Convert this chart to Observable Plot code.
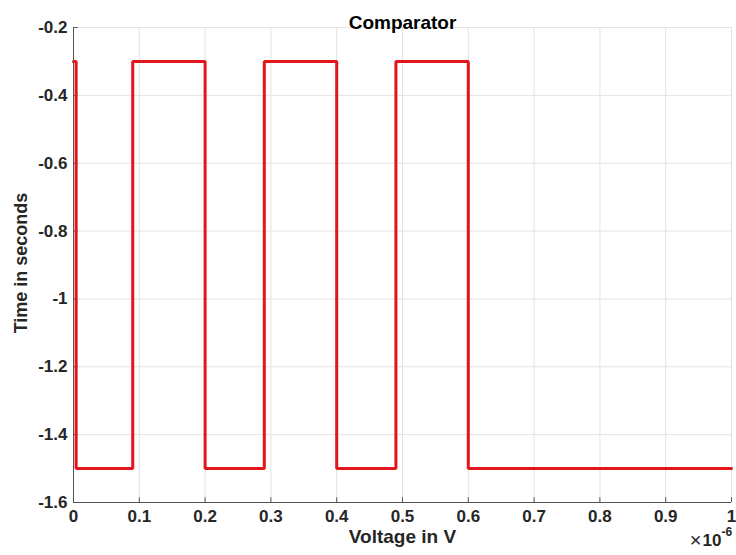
<!DOCTYPE html>
<html>
<head>
<meta charset="utf-8">
<script src="https://cdn.jsdelivr.net/npm/d3@7"></script>
<script src="https://cdn.jsdelivr.net/npm/@observablehq/plot@0.6"></script>
<style>
  html, body { margin: 0; padding: 0; background: #fff; }
  #chart svg { display: block; }
</style>
</head>
<body>
<div id="chart"></div>
<script>
// Time axis values in units of 1e-6 (shown with ×10^-6 multiplier)
const xValues = [0, 0.004, 0.004, 0.09, 0.09, 0.2, 0.2, 0.29, 0.29, 0.4, 0.4, 0.49, 0.49, 0.6, 0.6, 1.0];
const yValues = [-0.3, -0.3, -1.5, -1.5, -0.3, -0.3, -1.5, -1.5, -0.3, -0.3, -1.5, -1.5, -0.3, -0.3, -1.5, -1.5];
const xTicks = [0, 0.1, 0.2, 0.3, 0.4, 0.5, 0.6, 0.7, 0.8, 0.9, 1];
const yTicks = [-1.6, -1.4, -1.2, -1, -0.8, -0.6, -0.4, -0.2];
const titleText = "Comparator";
const xLabel = "Voltage in V";
const yLabel = "Time in seconds";

const data = xValues.map((x, i) => ({x, y: yValues[i]}));
const fmt = d => String(+d.toFixed(1));
const font = "'Liberation Sans', Arial, Helvetica, sans-serif";

const chart = Plot.plot({
  width: 736,
  height: 555,
  marginLeft: 73,
  marginRight: 5,
  marginTop: 27,
  marginBottom: 53,
  style: {fontFamily: font, fontSize: "17px", fontWeight: "bold", color: "#262626", background: "#fff"},
  x: {domain: [0, 1], ticks: xTicks},
  y: {domain: [-1.6, -0.2], ticks: yTicks},
  marks: [
    Plot.gridX(xTicks, {stroke: "#e3e3e3", strokeOpacity: 1}),
    Plot.gridY(yTicks, {stroke: "#e3e3e3", strokeOpacity: 1}),
    Plot.ruleX(xTicks, {y1: -1.6, y2: -1.6 + 0.014, stroke: "#555"}),
    Plot.ruleY(yTicks, {x1: 0, x2: 0.007, stroke: "#555"}),
    Plot.ruleX([0], {stroke: "#555"}),
    Plot.ruleY([-1.6], {stroke: "#555"}),
    Plot.axisX(xTicks, {tickSize: 0, tickPadding: 7, tickFormat: fmt, label: null, fontSize: 17, fontWeight: "bold"}),
    Plot.axisY(yTicks, {tickSize: 0, tickPadding: 6, tickFormat: fmt, label: null, fontSize: 17, fontWeight: "bold"}),
    Plot.line(data, {x: "x", y: "y", stroke: "#e3161b", strokeWidth: 3, strokeLinejoin: "miter"}),
    Plot.text([titleText], {frameAnchor: "top", dy: -12, fontSize: 19, fontWeight: "bold", fill: "#000"}),
    Plot.text([xLabel], {frameAnchor: "bottom", lineAnchor: "middle", dy: 34, fontSize: 19, fontWeight: "bold", fill: "#262626"}),
    Plot.text([yLabel], {frameAnchor: "left", textAnchor: "middle", lineAnchor: "middle", rotate: -90, dx: -52, dy: -2, fontSize: 18, fontWeight: "bold", fill: "#262626"}),
    Plot.text(["×"], {frameAnchor: "bottom-right", textAnchor: "end", lineAnchor: "middle", dx: -30, dy: 38, fontSize: 20, fontWeight: "normal", fill: "#262626"}),
    Plot.text(["10"], {frameAnchor: "bottom-right", textAnchor: "end", lineAnchor: "middle", dx: -10, dy: 38, fontSize: 17, fontWeight: "bold", fill: "#262626"}),
    Plot.text(["-6"], {frameAnchor: "bottom-right", textAnchor: "start", lineAnchor: "middle", dx: -10, dy: 30, fontSize: 12, fontWeight: "bold", fill: "#262626"})
  ]
});
document.getElementById("chart").appendChild(chart);
</script>
</body>
</html>
